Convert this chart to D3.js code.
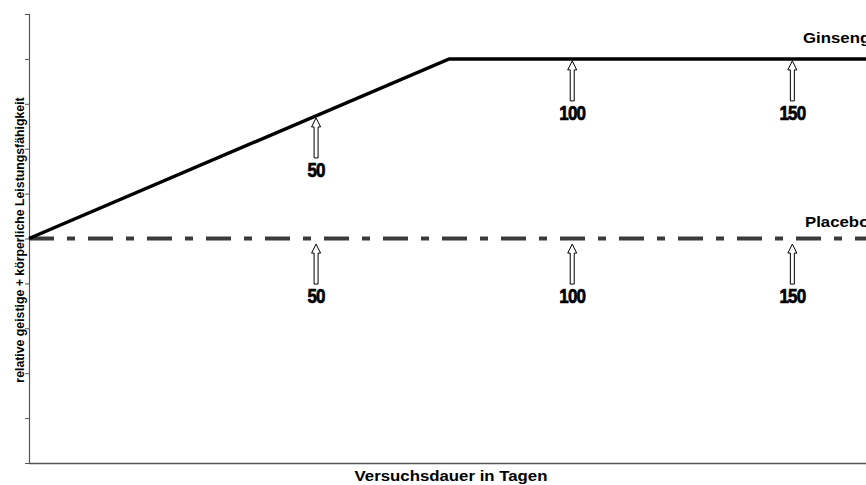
<!DOCTYPE html>
<html>
<head>
<meta charset="utf-8">
<script src="https://cdn.jsdelivr.net/npm/d3@7"></script>
<style>
  body { margin: 0; background: #fff; }
  text { font-family: Arial, "Liberation Sans", sans-serif; }
</style>
</head>
<body>
<div id="chart"></div>
<script>
// x: position along the test duration (relative units, 0..100 of plot width)
// y: relative performance level (0..10)
const ginsengX = [0, 50.2, 100];
const ginsengY = [5, 9, 9];
const placeboX = [0, 100];
const placeboY = [5, 5];
const markerDays = ["50", "100", "150"];
const ginsengMarkerX = [34.3, 64.9, 91.2];
const ginsengMarkerY = [7.73, 9, 9];
const placeboMarkerX = [34.3, 64.9, 91.2];
const placeboMarkerY = [4.92, 4.92, 4.92];
const yTicks = d3.range(0, 11);

const width = 866, height = 485;
const margin = {top: 14, right: 0, bottom: 22, left: 29};

const svg = d3.select("#chart").append("svg")
    .attr("width", width)
    .attr("height", height);

const x = d3.scaleLinear().domain([0, 100]).range([margin.left, width - margin.right]);
const y = d3.scaleLinear().domain([0, 10]).range([height - margin.bottom, margin.top]);

// axes
const yAxis = svg.append("g")
    .attr("transform", "translate(" + margin.left + ",0)")
    .call(d3.axisLeft(y).tickValues(yTicks).tickSize(4).tickFormat(""));
yAxis.select(".domain").attr("stroke", "#555").attr("stroke-width", 1.2);
yAxis.selectAll(".tick line").attr("stroke", "#555");

const xAxis = svg.append("g")
    .attr("transform", "translate(0," + y(0) + ")")
    .call(d3.axisBottom(x).tickValues([]).tickSizeOuter(0));
xAxis.select(".domain").attr("stroke", "#555").attr("stroke-width", 1.5);

const line = d3.line().x(d => x(d[0])).y(d => y(d[1]));

// placebo
svg.append("path")
    .datum(d3.zip(placeboX, placeboY))
    .attr("d", line)
    .attr("fill", "none")
    .attr("stroke", "#3a3a3a")
    .attr("stroke-width", 4)
    .attr("stroke-dasharray", "25,13,8,13");

// ginseng
svg.append("path")
    .datum(d3.zip(ginsengX, ginsengY))
    .attr("d", line)
    .attr("fill", "none")
    .attr("stroke", "#000")
    .attr("stroke-width", 3.5);

// hollow up-arrows with day labels
function arrows(xs, ys) {
    const g = svg.append("g").selectAll("g")
        .data(d3.zip(xs, ys, markerDays))
        .enter().append("g")
        .attr("transform", d => "translate(" + x(d[0]) + "," + (y(d[1]) + 2) + ")");
    g.append("path")
        .attr("d", "M0,0 L4.5,9 L2,9 L2,40 L-2,40 L-2,9 L-4.5,9 Z")
        .attr("fill", "#fff")
        .attr("stroke", "#000")
        .attr("stroke-width", 1);
    g.append("text")
        .attr("x", 0)
        .attr("y", 59)
        .attr("text-anchor", "middle")
        .attr("transform", "scale(0.85,1)")
        .style("font-family", "'Liberation Sans Narrow', 'Arial Narrow', sans-serif")
        .style("font-weight", "bold")
        .style("font-size", "20px")
        .style("letter-spacing", "-1px")
        .style("stroke", "#000")
        .style("stroke-width", "0.7px")
        .text(d => d[2]);
}
arrows(ginsengMarkerX, ginsengMarkerY);
arrows(placeboMarkerX, placeboMarkerY);

// wide bold label helper (reference text is horizontally stretched)
function wideText(tx, ty, anchor, size, str) {
    svg.append("text")
        .attr("transform", "translate(" + tx + "," + ty + ") scale(1.2,1)")
        .attr("text-anchor", anchor)
        .style("font-weight", "bold").style("font-size", size + "px")
        .text(str);
}

// series labels
wideText(803, 43, "start", 14, "Ginseng");
wideText(805, 227, "start", 14, "Placebo");

// axis titles
wideText(451, 481, "middle", 14, "Versuchsdauer in Tagen");
svg.append("text")
    .attr("transform", "translate(24," + 240 + ") rotate(-90)")
    .attr("text-anchor", "middle")
    .style("font-weight", "bold").style("font-size", "12.3px")
    .text("relative geistige + körperliche Leistungsfähigkeit");
</script>
</body>
</html>
